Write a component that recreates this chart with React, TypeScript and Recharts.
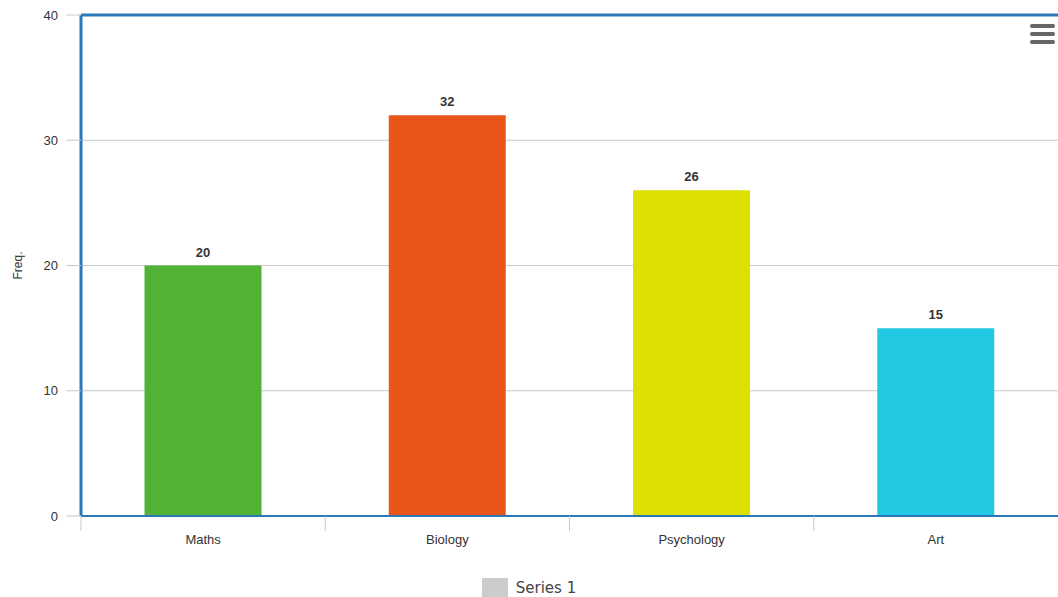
import { BarChart, Bar, XAxis, YAxis, CartesianGrid, Cell, LabelList, Legend, ReferenceLine } from 'recharts'

const subjects = ['Maths', 'Biology', 'Psychology', 'Art']
const freq = [20, 32, 26, 15]
const barColors = ['#52b236', '#e8561a', '#dde000', '#22c8e2']
const yTicks = [0, 10, 20, 30, 40]
const seriesName = 'Series 1'

const W = 1058
const H = 597
const LEFT = 81
const BLUE = '#2a78b8'
const FONT = '"Liberation Sans", Arial, sans-serif'

const data = subjects.map((s, i) => ({ subject: s, freq: freq[i] }))
const band = (W - LEFT) / subjects.length

function XTick(props: any) {
  const { x, y, payload } = props
  return (
    <g>
      <line x1={x - band / 2} x2={x - band / 2} y1={y - 8} y2={y + 7} stroke="#c8c8c8" />
      <text x={x} y={y + 20} textAnchor="middle" fontSize={13} fill="#333" fontFamily={FONT}>
        {payload.value}
      </text>
    </g>
  )
}

function LegendBox() {
  return (
    <div style={{ display: 'flex', justifyContent: 'center', alignItems: 'center', height: 30, paddingTop: 6 }}>
      <span style={{ width: 26, height: 20, background: '#cccccc', display: 'inline-block', marginRight: 8 }} />
      <span style={{ fontFamily: '"DejaVu Sans", Verdana, sans-serif', fontSize: 15, color: '#444' }}>{seriesName}</span>
    </div>
  )
}

export default function App() {
  return (
    <div style={{ position: 'absolute', left: 0, top: 0, width: W, height: H, background: '#fff' }}>
      <BarChart width={W} height={H} data={data} margin={{ top: 15, right: 0, left: 0, bottom: 0 }} barCategoryGap="26%">
        <CartesianGrid vertical={false} stroke="#c8c8c8" />
        <XAxis
          dataKey="subject"
          height={51}
          axisLine={{ stroke: BLUE, strokeWidth: 2 }}
          tickLine={false}
          tick={<XTick />}
          interval={0}
        />
        <YAxis
          width={LEFT}
          domain={[0, 40]}
          ticks={yTicks}
          axisLine={{ stroke: BLUE, strokeWidth: 3 }}
          tickLine={{ stroke: '#c8c8c8' }}
          tickSize={15}
          tickMargin={8}
          tick={{ fontSize: 13, fill: '#333', fontFamily: FONT }}
          label={{ value: 'Freq.', angle: -90, position: 'insideLeft', offset: 18, style: { fontSize: 12, fill: '#333', fontFamily: FONT, textAnchor: 'middle' } }}
        />
        <ReferenceLine y={40} stroke={BLUE} strokeWidth={3} />
        <Legend verticalAlign="bottom" height={30} content={<LegendBox />} />
        <Bar dataKey="freq" name={seriesName} isAnimationActive={false}>
          {data.map((d, i) => (
            <Cell key={d.subject} fill={barColors[i]} />
          ))}
          <LabelList dataKey="freq" position="top" offset={9} style={{ fontSize: 13, fontWeight: 'bold', fill: '#333', fontFamily: FONT }} />
        </Bar>
      </BarChart>
      <div style={{ position: 'absolute', right: 3, top: 24, width: 25 }}>
        {[0, 1, 2].map(i => (
          <div key={i} style={{ height: 4, background: '#666', borderRadius: 2, marginBottom: 4 }} />
        ))}
      </div>
    </div>
  )
}
